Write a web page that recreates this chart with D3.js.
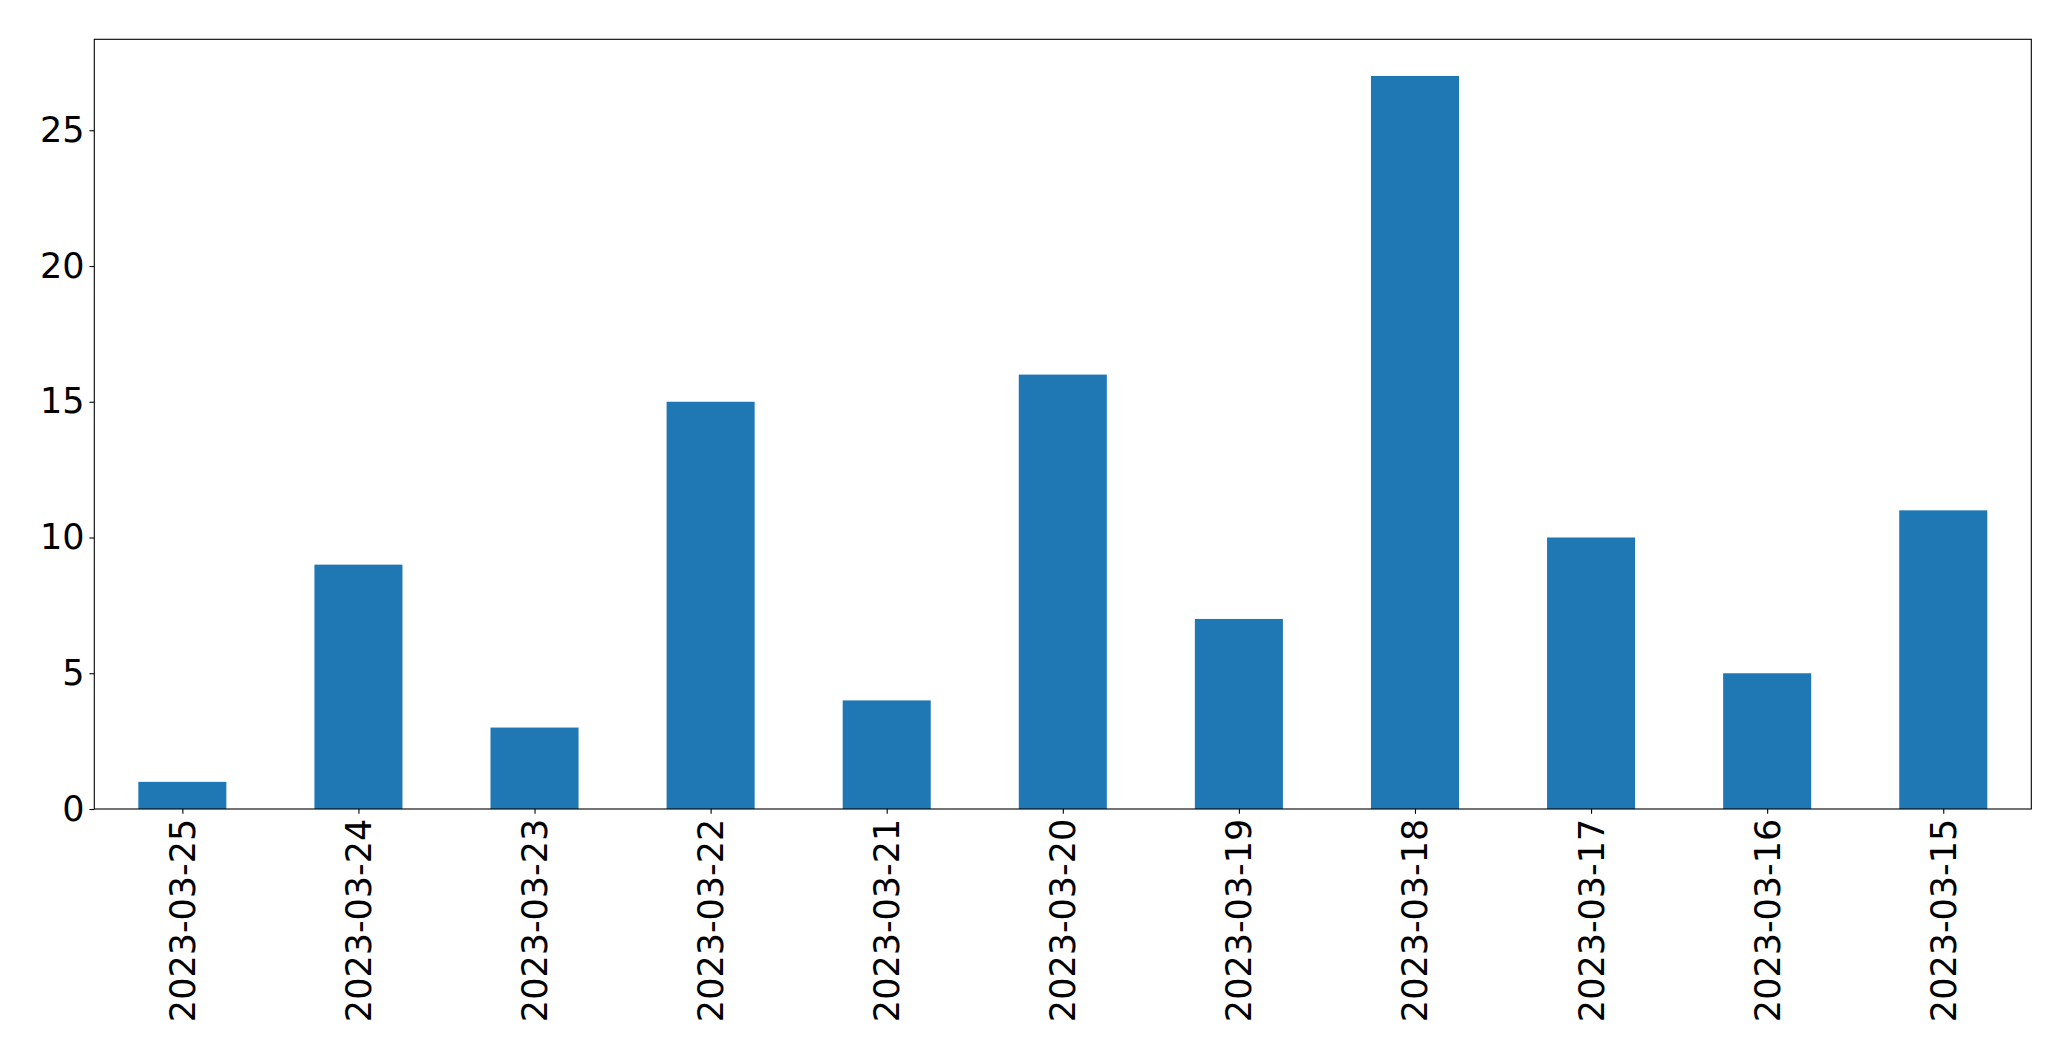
<!DOCTYPE html>
<html>
<head>
<meta charset="utf-8">
<script src="https://cdn.jsdelivr.net/npm/d3@7"></script>
<style>
  html, body { margin: 0; padding: 0; background: #fff; }
  svg { display: block; }
  text { font-family: "DejaVu Sans", sans-serif; }
</style>
</head>
<body>
<svg id="chart" width="2071" height="1061"></svg>
<script>
const categories = ["2023-03-25","2023-03-24","2023-03-23","2023-03-22","2023-03-21","2023-03-20","2023-03-19","2023-03-18","2023-03-17","2023-03-16","2023-03-15"];
const values = [1, 9, 3, 15, 4, 16, 7, 27, 10, 5, 11];
const yTicks = [0, 5, 10, 15, 20, 25];

const W = 2071, H = 1061;
const margin = {left: 94.3, top: 39.3, right: W - 2031.3, bottom: H - 809};
const iw = W - margin.left - margin.right;
const ih = H - margin.top - margin.bottom;

const svg = d3.select("#chart");
const g = svg.append("g").attr("transform", `translate(${margin.left},${margin.top})`);

const x = d3.scaleLinear().domain([-0.5, categories.length - 0.5]).range([0, iw]);
const y = d3.scaleLinear().domain([0, d3.max(values) * 1.05]).range([ih, 0]);
const barW = x(0.5) - x(0);

g.selectAll("rect.bar").data(values).enter().append("rect")
  .attr("class", "bar")
  .attr("x", (d, i) => x(i) - barW / 2)
  .attr("width", barW)
  .attr("y", d => y(d))
  .attr("height", d => y(0) - y(d))
  .attr("fill", "#1f77b4");

const tickLen = 4.86, pad = 4.86;

const yAxis = d3.axisLeft(y).tickValues(yTicks).tickSize(tickLen).tickPadding(pad).tickFormat(d3.format("d"));
const ya = g.append("g").call(yAxis);
ya.select(".domain").remove();
ya.selectAll("line").attr("stroke", "#000").attr("stroke-width", 1.1);
ya.selectAll("text").attr("font-size", 35).attr("fill", "#000").attr("font-family", "DejaVu Sans");

const xAxis = d3.axisBottom(x).tickValues(d3.range(categories.length)).tickSize(tickLen).tickFormat(i => categories[i]);
const xa = g.append("g").attr("transform", `translate(0,${ih})`).call(xAxis);
xa.select(".domain").remove();
xa.selectAll("line").attr("stroke", "#000").attr("stroke-width", 1.1);
xa.selectAll("text")
  .attr("font-size", 35).attr("fill", "#000").attr("font-family", "DejaVu Sans")
  .attr("text-anchor", "end")
  .attr("dy", null)
  .attr("dominant-baseline", "central")
  .attr("y", 0)
  .attr("x", 0)
  .attr("transform", `translate(0,${tickLen + pad}) rotate(-90)`);

g.append("rect")
  .attr("x", 0).attr("y", 0).attr("width", iw).attr("height", ih)
  .attr("fill", "none").attr("stroke", "#000").attr("stroke-width", 1.1);
</script>
</body>
</html>
